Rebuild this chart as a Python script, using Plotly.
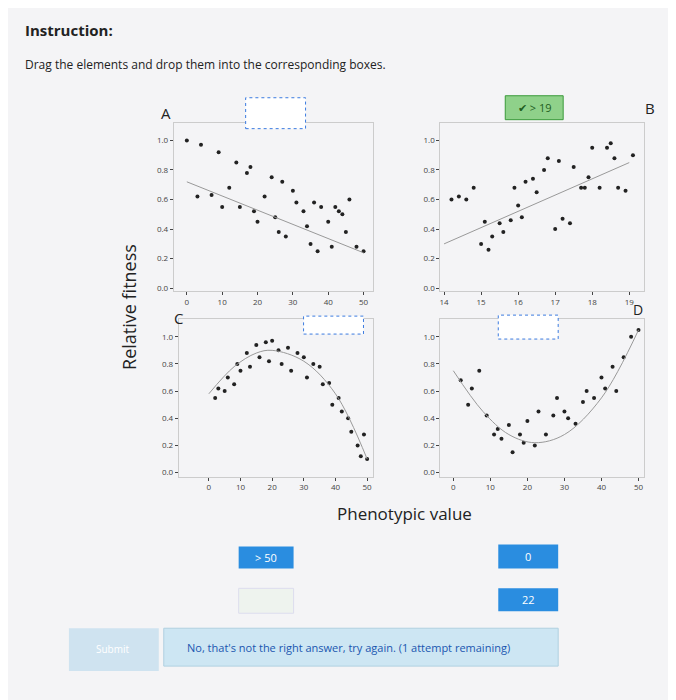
import plotly.graph_objects as go

W, H = 676, 700
# ---- data ----
a_x = [0,4,7,9,12,14,15,17,19,20,22,24,25,27,28,30,31,33,34,36,37,38,40,41,42,44,45,46,48,50,3,10,18,26,35,43]
a_y = [1.0,0.97,0.63,0.92,0.68,0.85,0.55,0.78,0.52,0.45,0.62,0.75,0.48,0.72,0.35,0.66,0.58,0.52,0.42,0.58,0.25,0.55,0.45,0.28,0.55,0.5,0.38,0.6,0.28,0.25,0.62,0.55,0.82,0.38,0.3,0.52]
a_line = [0.72, 0.24]
b_x = [14.2,14.4,14.6,14.8,15.0,15.1,15.3,15.5,15.6,15.8,15.9,16.1,16.2,16.4,16.5,16.7,16.8,17.0,17.2,17.4,17.5,17.7,17.9,18.0,18.2,18.4,18.5,18.7,18.9,19.1,15.2,16.0,17.1,17.8,18.6]
b_y = [0.6,0.62,0.6,0.68,0.3,0.45,0.35,0.44,0.38,0.46,0.68,0.48,0.72,0.74,0.65,0.8,0.88,0.4,0.47,0.44,0.82,0.68,0.75,0.95,0.68,0.95,0.98,0.68,0.66,0.9,0.26,0.56,0.86,0.68,0.88]
b_line = [0.3, 0.85]
c_x = [2,3,5,6,8,9,10,12,13,15,16,18,19,20,22,23,25,26,28,30,31,33,35,36,38,39,41,42,44,45,47,48,49,50]
c_y = [0.55,0.62,0.6,0.7,0.65,0.8,0.75,0.88,0.78,0.94,0.85,0.96,0.82,0.97,0.9,0.8,0.92,0.75,0.88,0.85,0.7,0.8,0.78,0.65,0.66,0.5,0.55,0.45,0.4,0.3,0.2,0.12,0.28,0.1]
c_fit = [0.58,0.78,0.88,0.9,0.82,0.58,0.1]
c_fx = [0,8,15,20,30,40,50]
d_x = [2,4,5,7,9,11,12,13,15,16,18,19,20,22,23,25,27,28,30,31,33,35,36,38,40,41,43,44,46,48,50]
d_y = [0.68,0.5,0.62,0.75,0.42,0.28,0.32,0.25,0.35,0.15,0.28,0.22,0.38,0.2,0.45,0.28,0.42,0.55,0.45,0.4,0.36,0.52,0.6,0.55,0.7,0.62,0.78,0.6,0.85,1.0,1.05]
d_fit = [0.75,0.45,0.28,0.22,0.28,0.55,1.05]
d_fx = [0,8,15,22,30,40,50]

fig = go.Figure()
def dom(x0,x1,y0,y1):
    return [x0/W,x1/W],[1-y1/H,1-y0/H]

panels = [
 ("", a_x,a_y,[0,50],a_line,[-3.7,52.8],[0,10,20,30,40,50],(165,365,115,284),[1.12,-0.02]),
 ("2", b_x,b_y,[14,19],b_line,[13.9,19.4],[14,15,16,17,18,19],(432,636,115,284),[1.12,-0.02]),
 ("3", c_x,c_y,c_fx,c_fit,[-9.5,52],[0,10,20,30,40,50],(170,365,312,470),[1.13,-0.03]),
 ("4", d_x,d_y,d_fx,d_fit,[-3.5,51.5],[0,10,20,30,40,50],(432,636,312,470),[1.13,-0.03]),
]
for k,(s,x,y,lx,ly,xr,tv,box,yr) in enumerate(panels):
    xa="x"+s; ya="y"+s
    fig.add_trace(go.Scatter(x=x,y=y,mode="markers",marker=dict(color="#222",size=4),xaxis=xa,yaxis=ya,showlegend=False))
    fig.add_trace(go.Scatter(x=lx,y=ly,mode="lines",line=dict(color="#999",width=1,shape="spline"),xaxis=xa,yaxis=ya,showlegend=False))
    xd,yd=dom(*box)
    fig.update_layout(**{
        "xaxis"+s: dict(domain=xd,range=xr,tickvals=tv,anchor=ya,showgrid=False,zeroline=False,showline=True,mirror=True,linecolor="#ccc",tickfont=dict(size=8,color="#444"),ticks="outside",ticklen=3),
        "yaxis"+s: dict(domain=yd,range=[yr[1],yr[0]],tickvals=[0,0.2,0.4,0.6,0.8,1.0],ticktext=["0.0","0.2","0.4","0.6","0.8","1.0"],anchor=xa,showgrid=False,zeroline=False,showline=True,mirror=True,linecolor="#ccc",tickfont=dict(size=8,color="#444"),ticks="outside",ticklen=3)})

def rect(x0,y0,x1,y1,fill,line="rgba(0,0,0,0)",dash="solid",lw=1,layer="below"):
    fig.add_shape(type="rect",xref="paper",yref="paper",x0=x0/W,x1=x1/W,y0=1-y1/H,y1=1-y0/H,fillcolor=fill,line=dict(color=line,dash=dash,width=lw),layer=layer)
def txt(x,y,t,size=12,color="#222",xanchor="center",angle=0):
    fig.add_annotation(x=x/W,y=1-y/H,xref="paper",yref="paper",text=t,showarrow=False,font=dict(size=size,color=color),xanchor=xanchor,yanchor="middle",textangle=angle)

rect(0,0,676,700,"#f4f4f6")
rect(237,90,297,121,"white","#3b7be0","dot",layer="above")
rect(497,88,555,112,"#8fd18a","#3a9a3a",layer="above")
rect(295,309,355,327,"white","#3b7be0","dot",layer="above")
rect(490,308,550,332,"white","#3b7be0","dot",layer="above")
rect(230,540,285,562,"#2a8de0")
rect(490,538,550,562,"#2a8de0")
rect(490,582,550,605,"#2a8de0")
rect(230,582,285,607,"#eef3ee","#dde")
rect(60,622,150,665,"#cfe3f0")
rect(155,622,550,660,"#cde6f3","#b0d0e0")

txt(14,22,"<b>Instruction:</b>",15,xanchor="left")
txt(14,57,"Drag the elements and drop them into the corresponding boxes.",12,xanchor="left")
txt(157,105,"A",15); txt(642,100,"B",15); txt(170,311,"C",15); txt(630,302,"D",14)
txt(527,100,"✔ > 19",11,"#1f5f1f")
txt(120,300,"Relative fitness",18,angle=-90)
txt(396,507,"Phenotypic value",17)
txt(257,551,"> 50",11,"white"); txt(520,550,"0",11,"white"); txt(520,593,"22",11,"white")
txt(104,643,"Submit",10,"white")
txt(340,641,"No, that's not the right answer, try again. (1 attempt remaining)",11,"#1a56b0")

fig.update_layout(width=W,height=H,margin=dict(l=0,r=0,t=0,b=0),paper_bgcolor="#f4f4f6",plot_bgcolor="white",font=dict(family="Open Sans"))
fig.write_html("out.html")
